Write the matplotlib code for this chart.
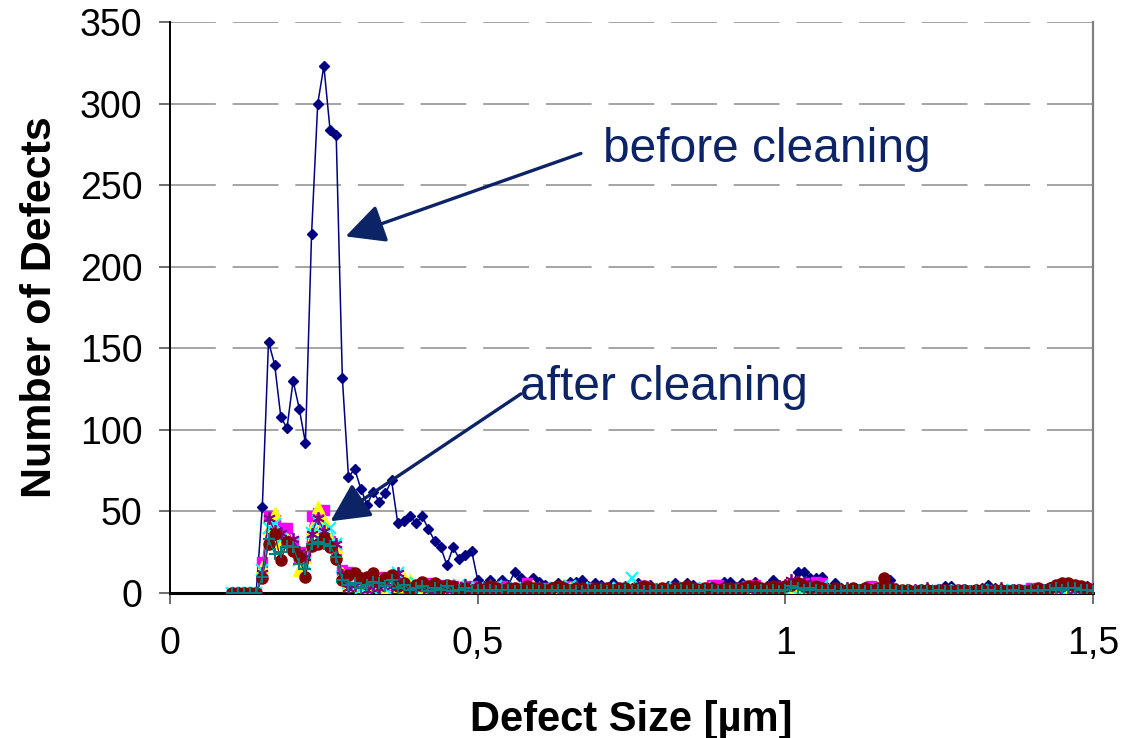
import numpy as np
import matplotlib
matplotlib.use("Agg")
from matplotlib import pyplot as plt
from matplotlib.patches import FancyArrowPatch

plt.rcParams['font.family'] = ['Liberation Sans', 'DejaVu Sans']

# defect size bins 0.10 ... 1.50 um
size = [round(0.10 + 0.01 * i, 2) for i in range(141)]

before = [0, 0, 0, 0, 0, 53, 154, 140, 108, 101,
          130, 113, 92, 220, 300, 323, 284, 281, 132, 71,
          76, 64, 54, 62, 56, 61, 69, 43, 44, 47,
          43, 47, 39, 32, 28, 17, 28, 21, 23, 26,
          8, 4, 8, 4, 8, 5, 13, 9, 6, 9,
          7, 5, 3, 6, 5, 7, 7, 8, 4, 6,
          5, 3, 6, 3, 4, 3, 6, 3, 5, 3,
          2, 4, 6, 3, 6, 5, 3, 2, 3, 3,
          7, 7, 3, 6, 3, 7, 3, 4, 8, 5,
          3, 5, 13, 13, 9, 9, 10, 3, 6, 3,
          2, 3, 2, 2, 3, 2, 2, 8, 3, 2,
          2, 1, 2, 1, 2, 2, 4, 4, 2, 1,
          2, 2, 3, 5, 3, 2, 2, 1, 2, 2,
          3, 3, 2, 3, 4, 4, 5, 4, 3, 4,
          3]

after1 = [0, 0, 0, 0, 0, 19, 47, 45, 40, 40,
          31, 22, 25, 47, 49, 51, 32, 26, 14, 13,
          8, 6, 5, 9, 4, 10, 5, 7, 3, 5,
          4, 2, 6, 3, 5, 2, 4, 3, 2, 4,
          2, 3, 1, 2, 4, 2, 3, 2, 6, 3,
          2, 3, 2, 1, 3, 4, 2, 1, 3, 2,
          1, 2, 2, 3, 1, 2, 1, 4, 2, 1,
          2, 1, 3, 2, 1, 2, 3, 2, 5, 5,
          2, 1, 2, 3, 4, 5, 2, 1, 2, 2,
          3, 4, 5, 6, 5, 7, 6, 2, 1, 1,
          0, 1, 2, 1, 4, 3, 2, 3, 1, 1,
          0, 1, 1, 0, 1, 2, 1, 0, 1, 1,
          0, 1, 1, 2, 1, 0, 1, 1, 2, 1,
          3, 2, 1, 2, 2, 3, 5, 4, 3, 3,
          2]

after2 = [0, 0, 0, 0, 0, 16, 40, 49, 31, 33,
          28, 14, 22, 40, 53, 45, 33, 28, 12, 5,
          7, 4, 2, 6, 8, 1, 6, 4, 9, 8,
          3, 2, 4, 1, 1, 5, 2, 0, 1, 3,
          1, 2, 0, 3, 1, 2, 1, 0, 2, 4,
          1, 0, 2, 1, 0, 3, 1, 0, 1, 2,
          0, 1, 3, 1, 0, 1, 2, 1, 0, 2,
          1, 0, 0, 2, 1, 0, 1, 2, 0, 1,
          1, 0, 2, 0, 1, 2, 0, 1, 0, 1,
          0, 1, 2, 0, 3, 1, 2, 0, 1, 0,
          1, 0, 0, 1, 2, 0, 1, 0, 0, 1,
          0, 0, 1, 0, 0, 1, 0, 2, 0, 0,
          1, 0, 0, 1, 0, 0, 1, 0, 0, 1,
          0, 1, 2, 1, 0, 3, 1, 0, 2, 1,
          0]

after3 = [0, 0, 0, 0, 0, 14, 40, 42, 33, 30,
          30, 20, 18, 37, 44, 35, 40, 30, 10, 6,
          4, 3, 6, 2, 7, 3, 5, 12, 5, 4,
          6, 3, 2, 4, 1, 3, 2, 5, 2, 1,
          3, 1, 2, 4, 2, 1, 3, 2, 1, 2,
          2, 3, 1, 2, 1, 4, 2, 3, 1, 2,
          1, 2, 1, 3, 2, 9, 1, 2, 1, 0,
          2, 1, 3, 1, 2, 0, 1, 3, 1, 2,
          1, 2, 0, 1, 3, 1, 2, 1, 2, 0,
          2, 3, 4, 2, 3, 2, 4, 1, 2, 1,
          0, 1, 2, 1, 0, 2, 1, 0, 1, 2,
          0, 1, 0, 1, 2, 0, 1, 0, 1, 0,
          1, 0, 2, 1, 0, 1, 0, 2, 1, 0,
          1, 2, 1, 0, 2, 1, 3, 2, 1, 2,
          1]

after4 = [0, 0, 0, 0, 0, 12, 46, 38, 37, 30,
          33, 25, 22, 36, 46, 38, 30, 30, 11, 3,
          5, 7, 2, 5, 3, 7, 4, 12, 4, 2,
          3, 5, 2, 1, 4, 2, 3, 1, 5, 2,
          1, 3, 2, 1, 2, 3, 1, 2, 2, 1,
          2, 1, 3, 2, 1, 2, 0, 1, 2, 1,
          3, 1, 2, 0, 1, 2, 1, 3, 1, 2,
          1, 2, 1, 2, 0, 1, 2, 1, 3, 2,
          2, 1, 3, 1, 2, 3, 1, 2, 1, 4,
          5, 8, 7, 6, 4, 3, 2, 1, 2, 1,
          3, 1, 2, 3, 2, 1, 0, 1, 2, 1,
          1, 2, 1, 3, 1, 2, 1, 0, 1, 2,
          1, 0, 1, 2, 1, 3, 1, 2, 1, 0,
          2, 1, 2, 3, 2, 4, 3, 2, 3, 2,
          2]

after5 = [0, 0, 0, 0, 0, 9, 30, 36, 20, 31,
          26, 22, 10, 29, 30, 34, 28, 21, 8, 11,
          12, 9, 10, 12, 7, 9, 11, 4, 6, 1,
          5, 7, 4, 6, 3, 5, 4, 2, 3, 1,
          3, 2, 4, 3, 2, 3, 3, 2, 4, 3,
          3, 2, 3, 4, 3, 2, 3, 3, 2, 3,
          2, 3, 2, 3, 3, 2, 3, 4, 3, 2,
          3, 2, 3, 3, 4, 3, 2, 3, 3, 2,
          3, 3, 2, 3, 4, 4, 3, 3, 4, 2,
          4, 5, 6, 4, 3, 4, 3, 2, 3, 2,
          2, 3, 2, 3, 2, 3, 9, 3, 2, 2,
          2, 1, 2, 2, 1, 2, 2, 1, 2, 2,
          1, 2, 2, 1, 2, 2, 1, 2, 2, 1,
          2, 3, 2, 3, 5, 6, 6, 5, 4, 3,
          2]

after6 = [0, 0, 0, 0, 0, 10, 33, 24, 25, 29,
          28, 18, 15, 30, 31, 30, 29, 22, 8, 5,
          6, 3, 5, 7, 6, 4, 8, 3, 5, 2,
          3, 4, 1, 3, 2, 4, 1, 2, 3, 1,
          2, 1, 2, 1, 2, 2, 1, 2, 1, 2,
          1, 2, 1, 2, 1, 2, 1, 1, 2, 1,
          2, 1, 2, 1, 2, 1, 2, 1, 1, 2,
          1, 2, 1, 2, 1, 2, 1, 2, 2, 1,
          2, 1, 2, 1, 2, 1, 2, 1, 2, 1,
          2, 4, 3, 2, 3, 2, 1, 2, 1, 1,
          2, 1, 2, 1, 1, 2, 1, 2, 1, 1,
          1, 1, 2, 1, 1, 2, 1, 1, 1, 2,
          1, 1, 1, 2, 1, 1, 1, 2, 1, 1,
          2, 1, 2, 2, 3, 2, 3, 3, 2, 2,
          1]

navy = '#000080'
txt_col = '#0c2366'

fig = plt.figure(figsize=(11.21, 7.38), dpi=100)
ax = fig.add_axes([0.1517, 0.1965, 0.8233, 0.7737])

ax.plot(size, before, color=navy, lw=1.1, marker='D', ms=5.5, mfc=navy, mec=navy, zorder=3)
ax.plot(size, after1, color='#ff00ff', lw=0.9, marker='s', ms=7.5, mfc='#ff00ff', mec='#ff00ff', zorder=4)
ax.plot(size, after2, color='#ffff00', lw=0.9, marker='^', ms=8.5, mfc='#ffff00', mec='#ffff00', zorder=5)
ax.plot(size, after3, color='#00ffff', lw=0.9, marker='x', ms=8, mew=1.5, zorder=6)
ax.plot(size, after4, color='#800080', lw=0.9, marker=(6, 2, 0), ms=9, mew=1.3, zorder=7)
ax.plot(size, after5, color='#800000', lw=0.9, marker='o', ms=8, mfc='#800000', mec='#800000', zorder=8)
ax.plot(size, after6, color='#008080', lw=0.9, marker='+', ms=9, mew=1.5, zorder=9)

ax.set_xlim(0, 1.5)
ax.set_ylim(0, 350)
ax.set_xticks([0, 0.5, 1, 1.5])
ax.set_xticklabels(['0', '0,5', '1', '1,5'])
ax.set_yticks(range(0, 351, 50))
ax.tick_params(axis='both', labelsize=27, direction='out', length=8, width=1.2, color='#555555')
ax.tick_params(axis='x', pad=16)
ax.tick_params(axis='y', pad=12)

ax.yaxis.grid(True, color='#8c8c8c', lw=1.1, linestyle=(0, (30, 11)))
ax.set_axisbelow(True)

ax.spines['top'].set_visible(False)
ax.spines['left'].set_color('black')
ax.spines['left'].set_linewidth(1.4)
ax.spines['bottom'].set_color('black')
ax.spines['bottom'].set_linewidth(2.2)
ax.spines['bottom'].set_zorder(2)
ax.spines['right'].set_color('#808080')
ax.spines['right'].set_linewidth(1.6)

ax.set_xlabel('Defect Size [µm]', fontsize=30, fontweight='bold', labelpad=27)
ax.set_ylabel('Number of Defects', fontsize=31, fontweight='bold', labelpad=14)

# annotations
ax.text(0.704, 272, 'before cleaning', fontsize=34.5, color=txt_col, va='center', ha='left')
ax.text(0.569, 126, 'after cleaning', fontsize=34.5, color=txt_col, va='center', ha='left')
for start, end in [((0.672, 270), (0.281, 218)), ((0.574, 123), (0.257, 43))]:
    arr = FancyArrowPatch(start, end, arrowstyle='-|>,head_length=1.2,head_width=0.6',
                          mutation_scale=20, color=txt_col, lw=2.4, zorder=12)
    ax.add_patch(arr)

fig.savefig('out.png', dpi=100)
